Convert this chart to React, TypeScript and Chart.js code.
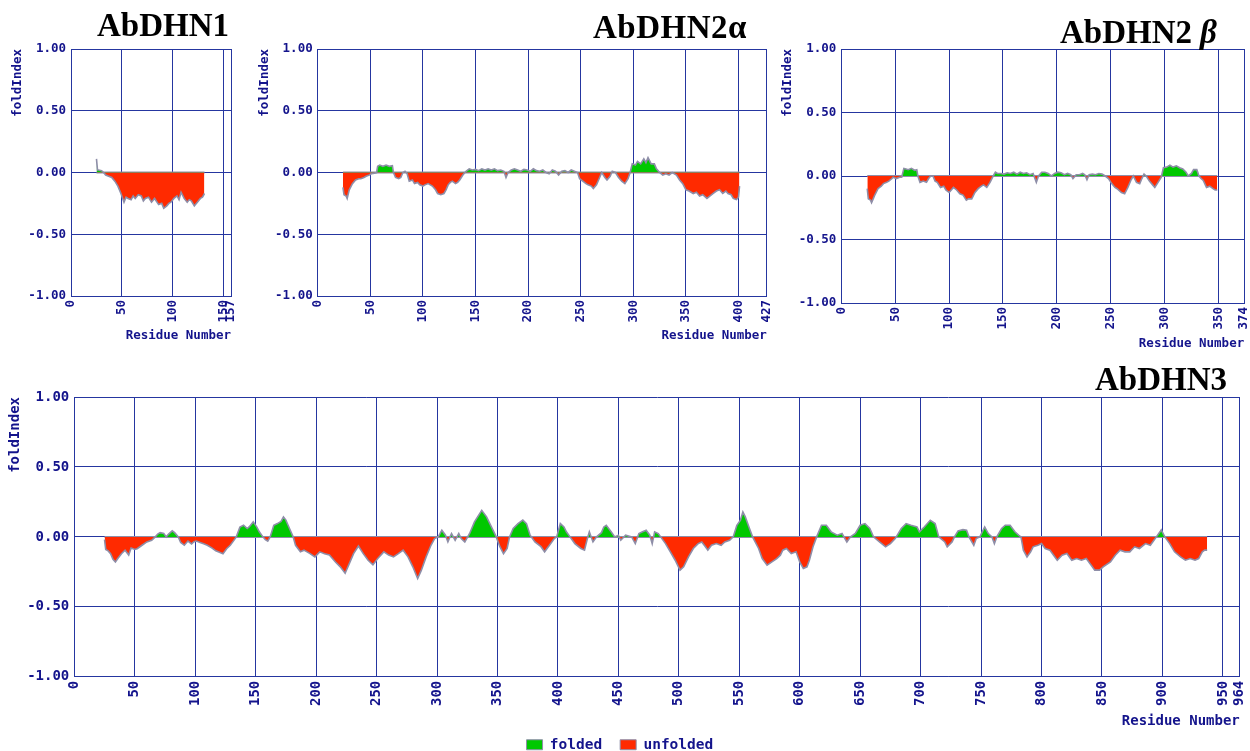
import React, { useEffect, useRef } from 'react';
import { Chart, registerables } from 'chart.js';

Chart.register(...registerables);

// ---------- data ----------
const yTicks = [-1, -0.5, 0, 0.5, 1];

const dhn1XTicks = [0, 50, 100, 150, 157];
const dhn1Residues = [25, 26, 27, 30, 32, 34, 37, 40, 43, 46, 49, 52, 54, 56, 59, 61, 63, 66, 69, 71, 73, 76, 79, 82, 86, 89, 91, 94, 96, 98, 101, 104, 106, 108, 111, 114, 116, 118, 121, 124, 127, 129, 131];
const dhn1Values = [0.11, 0.02, 0.02, 0.015, 0.0, -0.02, -0.03, -0.04, -0.07, -0.11, -0.17, -0.24, -0.2, -0.21, -0.22, -0.19, -0.21, -0.18, -0.19, -0.23, -0.21, -0.2, -0.24, -0.21, -0.26, -0.25, -0.29, -0.27, -0.25, -0.24, -0.21, -0.19, -0.22, -0.16, -0.21, -0.24, -0.22, -0.23, -0.27, -0.24, -0.21, -0.2, -0.17];

const dhn2aXTicks = [0, 50, 100, 150, 200, 250, 300, 350, 400, 427];
const dhn2aResidues = [24, 25, 27, 28, 30, 33, 36, 39, 41, 44, 46, 49, 51, 54, 56, 57, 59, 62, 65, 68, 71, 72, 74, 77, 79, 81, 83, 85, 87, 90, 92, 95, 97, 100, 102, 105, 107, 109, 112, 114, 117, 120, 122, 124, 126, 128, 131, 133, 135, 138, 141, 144, 147, 150, 153, 156, 159, 162, 165, 168, 171, 174, 177, 179, 181, 184, 187, 190, 193, 196, 199, 202, 205, 208, 211, 214, 217, 220, 223, 226, 229, 232, 235, 238, 241, 244, 247, 249, 252, 255, 257, 260, 262, 265, 268, 270, 273, 275, 278, 280, 283, 286, 289, 292, 295, 297, 299, 302, 304, 307, 310, 312, 314, 317, 320, 322, 325, 328, 331, 334, 337, 341, 344, 347, 350, 353, 357, 360, 363, 366, 370, 373, 376, 379, 382, 385, 388, 390, 393, 395, 398, 400, 401];
const dhn2aValues = [-0.12, -0.18, -0.19, -0.21, -0.14, -0.09, -0.06, -0.05, -0.05, -0.04, -0.03, -0.02, -0.01, -0.005, 0.0, 0.05, 0.06, 0.05, 0.06, 0.05, 0.055, 0.0, -0.04, -0.05, -0.04, 0.0, 0.01, -0.01, -0.07, -0.06, -0.09, -0.08, -0.1, -0.11, -0.1, -0.09, -0.1, -0.11, -0.14, -0.17, -0.18, -0.17, -0.14, -0.1, -0.08, -0.07, -0.09, -0.08, -0.06, -0.02, 0.01, 0.03, 0.02, 0.025, 0.015, 0.03, 0.02, 0.03, 0.02, 0.03, 0.015, 0.02, 0.01, -0.04, 0.0, 0.02, 0.03, 0.02, 0.01, 0.025, 0.02, 0.01, 0.03, 0.015, 0.01, 0.02, 0.0, -0.01, 0.02, 0.01, -0.02, 0.01, 0.015, 0.0, 0.02, 0.01, 0.0, -0.05, -0.07, -0.09, -0.1, -0.11, -0.13, -0.1, -0.04, 0.0, -0.04, -0.06, -0.03, 0.01, 0.0, -0.04, -0.07, -0.09, -0.05, 0.0, 0.07, 0.06, 0.09, 0.07, 0.11, 0.08, 0.12, 0.07, 0.07, 0.03, 0.0, -0.02, -0.01, -0.02, 0.0, -0.02, -0.06, -0.09, -0.14, -0.15, -0.17, -0.16, -0.19, -0.18, -0.21, -0.19, -0.17, -0.15, -0.14, -0.17, -0.15, -0.17, -0.18, -0.21, -0.22, -0.2, -0.11];

const dhn2bXTicks = [0, 50, 100, 150, 200, 250, 300, 350, 374];
const dhn2bResidues = [24, 25, 27, 28, 30, 31, 34, 37, 39, 42, 44, 47, 48, 51, 54, 56, 58, 60, 62, 65, 68, 70, 71, 73, 76, 79, 81, 83, 85, 87, 89, 92, 95, 97, 100, 102, 104, 107, 110, 113, 116, 118, 121, 124, 127, 130, 132, 135, 138, 141, 143, 145, 148, 151, 154, 157, 160, 163, 166, 169, 172, 175, 178, 181, 183, 186, 189, 192, 195, 198, 201, 204, 207, 210, 213, 215, 218, 221, 224, 226, 228, 230, 233, 236, 239, 242, 245, 248, 251, 254, 256, 260, 263, 266, 269, 271, 274, 277, 279, 281, 283, 286, 289, 291, 294, 297, 299, 302, 305, 308, 311, 314, 317, 320, 322, 325, 327, 330, 332, 334, 336, 339, 342, 345, 347, 349];
const dhn2bValues = [-0.1, -0.18, -0.19, -0.21, -0.17, -0.15, -0.1, -0.08, -0.06, -0.05, -0.04, -0.02, -0.01, -0.02, -0.01, -0.01, 0.06, 0.055, 0.05, 0.06, 0.045, 0.05, 0.0, -0.05, -0.04, -0.05, -0.02, 0.0, 0.0, -0.04, -0.05, -0.09, -0.08, -0.11, -0.13, -0.11, -0.09, -0.11, -0.14, -0.15, -0.19, -0.18, -0.18, -0.13, -0.1, -0.08, -0.07, -0.09, -0.05, 0.0, 0.03, 0.02, 0.02, 0.015, 0.025, 0.02, 0.03, 0.015, 0.03, 0.02, 0.025, 0.01, 0.02, -0.05, 0.0, 0.03, 0.03, 0.02, 0.0, 0.02, 0.03, 0.025, 0.01, 0.02, 0.01, -0.02, 0.01, 0.01, 0.02, 0.01, -0.03, 0.01, 0.015, 0.01, 0.02, 0.015, 0.0, -0.02, -0.06, -0.09, -0.1, -0.13, -0.14, -0.09, -0.03, 0.0, -0.05, -0.06, -0.02, 0.015, 0.0, -0.04, -0.07, -0.09, -0.05, -0.01, 0.065, 0.07, 0.085, 0.07, 0.08, 0.065, 0.055, 0.03, 0.0, 0.02, 0.05, 0.05, 0.0, -0.02, -0.035, -0.09, -0.08, -0.1, -0.11, -0.11];

const dhn3XTicks = [0, 50, 100, 150, 200, 250, 300, 350, 400, 450, 500, 550, 600, 650, 700, 750, 800, 850, 900, 950, 964];
const dhn3Residues = [25, 26, 28, 30, 32, 34, 36, 39, 42, 45, 47, 50, 52, 56, 60, 64, 67, 69, 71, 74, 76, 78, 81, 83, 86, 88, 91, 94, 97, 99, 101, 104, 107, 110, 114, 117, 120, 123, 126, 129, 132, 134, 137, 140, 143, 145, 148, 151, 153, 156, 158, 160, 162, 165, 168, 171, 173, 175, 178, 181, 183, 187, 190, 195, 199, 203, 207, 211, 216, 220, 224, 227, 231, 235, 239, 243, 247, 251, 256, 260, 264, 268, 272, 276, 280, 284, 287, 291, 295, 298, 301, 304, 307, 309, 312, 315, 318, 320, 323, 327, 331, 337, 341, 345, 349, 352, 355, 358, 360, 363, 367, 371, 374, 377, 381, 386, 389, 393, 397, 399, 402, 405, 407, 410, 414, 419, 422, 424, 426, 429, 432, 436, 438, 440, 444, 447, 450, 452, 456, 461, 464, 467, 470, 473, 476, 478, 480, 483, 485, 489, 493, 497, 501, 504, 508, 512, 516, 519, 522, 524, 527, 531, 535, 538, 542, 545, 548, 551, 553, 555, 558, 561, 566, 569, 573, 577, 581, 584, 586, 589, 593, 597, 600, 603, 606, 608, 611, 614, 618, 622, 626, 631, 635, 639, 642, 646, 650, 654, 658, 661, 666, 671, 675, 679, 684, 688, 692, 697, 699, 703, 708, 712, 715, 720, 722, 726, 728, 731, 735, 738, 740, 744, 746, 749, 753, 756, 759, 761, 763, 767, 770, 774, 778, 781, 783, 785, 788, 791, 793, 797, 800, 803, 807, 813, 817, 821, 825, 829, 833, 837, 842, 844, 848, 851, 857, 861, 865, 869, 873, 877, 881, 886, 890, 893, 895, 898, 899, 902, 906, 910, 915, 919, 923, 927, 930, 933, 935, 937];
const dhn3Values = [-0.02, -0.09, -0.1, -0.12, -0.16, -0.18, -0.155, -0.12, -0.095, -0.13, -0.08, -0.09, -0.085, -0.06, -0.036, -0.024, 0.0, 0.02, 0.03, 0.025, 0.0, 0.02, 0.043, 0.03, 0.0, -0.04, -0.06, -0.03, -0.05, -0.035, -0.03, -0.04, -0.05, -0.06, -0.08, -0.1, -0.11, -0.12, -0.085, -0.06, -0.025, 0.0, 0.07, 0.083, 0.06, 0.075, 0.107, 0.07, 0.036, 0.0, -0.02, -0.03, 0.0, 0.083, 0.095, 0.11, 0.143, 0.12, 0.06, 0.0, -0.06, -0.107, -0.095, -0.12, -0.143, -0.107, -0.12, -0.13, -0.18, -0.214, -0.26, -0.2, -0.12, -0.065, -0.12, -0.167, -0.2, -0.155, -0.107, -0.13, -0.143, -0.12, -0.095, -0.143, -0.214, -0.298, -0.24, -0.143, -0.06, -0.012, 0.0, 0.048, 0.012, -0.036, 0.024, -0.024, 0.024, -0.012, -0.036, 0.024, 0.107, 0.19, 0.143, 0.071, 0.0, -0.07, -0.12, -0.083, 0.0, 0.06, 0.095, 0.12, 0.095, 0.012, -0.036, -0.07, -0.107, -0.06, -0.012, 0.0, 0.095, 0.071, 0.036, 0.0, -0.048, -0.083, -0.095, -0.024, 0.036, -0.036, 0.0, 0.03, 0.071, 0.083, 0.036, 0.0, 0.012, -0.024, 0.012, 0.0, -0.048, 0.024, 0.036, 0.048, 0.012, -0.048, 0.036, 0.024, 0.0, -0.048, -0.107, -0.167, -0.238, -0.214, -0.143, -0.083, -0.048, -0.036, -0.071, -0.095, -0.06, -0.048, -0.06, -0.036, -0.024, 0.0, 0.083, 0.12, 0.178, 0.143, 0.071, 0.0, -0.083, -0.155, -0.202, -0.179, -0.155, -0.131, -0.095, -0.083, -0.119, -0.107, -0.179, -0.226, -0.214, -0.167, -0.071, 0.0, 0.083, 0.083, 0.036, 0.012, 0.024, -0.036, 0.0, 0.024, 0.083, 0.095, 0.06, 0.0, -0.036, -0.071, -0.048, -0.012, 0.06, 0.095, 0.083, 0.071, 0.036, 0.071, 0.119, 0.095, 0.0, -0.036, -0.071, -0.036, 0.0, 0.043, 0.052, 0.048, 0.0, -0.06, -0.012, 0.0, 0.071, 0.024, 0.0, -0.048, 0.0, 0.06, 0.083, 0.083, 0.036, 0.012, 0.0, -0.095, -0.143, -0.107, -0.071, -0.06, -0.048, -0.083, -0.095, -0.167, -0.131, -0.119, -0.167, -0.155, -0.167, -0.155, -0.214, -0.238, -0.238, -0.214, -0.179, -0.131, -0.095, -0.107, -0.107, -0.071, -0.083, -0.048, -0.06, -0.024, 0.0, 0.036, 0.05, 0.0, -0.048, -0.107, -0.143, -0.167, -0.155, -0.167, -0.155, -0.107, -0.095, -0.095];

const legendLabels = ['folded', 'unfolded'];

// ---------- styles ----------
const FOLDED = '#00c800';
const UNFOLDED = '#ff2a00';
const OUTLINE = '#8e8ea8';
const GRID = '#2536a0';
const TEXT = '#14148c';
const MONO = "'DejaVu Sans Mono', monospace";

type Spec = {
  residues: number[];
  values: number[];
  xTicks: number[];
  left: number;
  top: number;
  width: number;
  height: number;
  pad: { left: number; right: number; top: number; bottom: number };
  yAxisWidth: number;
  xAxisHeight: number;
  fontSize: number;
  yTitlePad: number;
  xTitlePad: number;
  legend: boolean;
};

const panels: Spec[] = [
  { residues: dhn1Residues, values: dhn1Values, xTicks: dhn1XTicks, left: 0, top: 39, width: 240, height: 307,
    pad: { left: 0, right: 9, top: 10, bottom: 0 }, yAxisWidth: 71, xAxisHeight: 50, fontSize: 12.5, yTitlePad: 10.5, xTitlePad: 2.5, legend: false },
  { residues: dhn2aResidues, values: dhn2aValues, xTicks: dhn2aXTicks, left: 245, top: 39, width: 531, height: 307,
    pad: { left: 0, right: 9.1, top: 10, bottom: 0 }, yAxisWidth: 72.7, xAxisHeight: 50, fontSize: 12.5, yTitlePad: 12.5, xTitlePad: 2.5, legend: false },
  { residues: dhn2bResidues, values: dhn2bValues, xTicks: dhn2bXTicks, left: 770, top: 39, width: 490, height: 314,
    pad: { left: 0, right: 15.8, top: 10, bottom: 0 }, yAxisWidth: 71.4, xAxisHeight: 50, fontSize: 12.5, yTitlePad: 10.5, xTitlePad: 1.5, legend: false },
  { residues: dhn3Residues, values: dhn3Values, xTicks: dhn3XTicks, left: 0, top: 380, width: 1250, height: 382.25,
    pad: { left: 0, right: 10.2, top: 17, bottom: 0 }, yAxisWidth: 74.3, xAxisHeight: 42.75, fontSize: 14, yTitlePad: 6.6, xTitlePad: -10.35, legend: true },
];

function FoldPanel({ spec }: { spec: Spec }) {
  const ref = useRef<HTMLCanvasElement>(null);
  useEffect(() => {
    if (!ref.current) return;
    const font = { family: MONO, weight: 'bold' as const, size: spec.fontSize, lineHeight: 1.2 };
    const points = spec.residues.map((r, i) => ({ x: r, y: spec.values[i] }));
    const first = spec.residues[0];
    const last = spec.residues[spec.residues.length - 1];
    const chart = new Chart(ref.current, {
      type: 'line',
      data: {
        datasets: [
          {
            label: 'foldIndex',
            data: points,
            borderColor: OUTLINE,
            borderWidth: 1.6,
            pointRadius: 0,
            tension: 0,
            fill: { target: { value: 0 }, above: FOLDED, below: UNFOLDED } as any,
          },
          {
            label: 'baseline',
            data: [{ x: first, y: 0 }, { x: last, y: 0 }],
            borderColor: OUTLINE,
            borderWidth: 2,
            pointRadius: 0,
            fill: false,
          },
        ],
      },
      options: {
        animation: false,
        responsive: false,
        maintainAspectRatio: false,
        events: [],
        layout: { padding: spec.pad },
        plugins: {
          tooltip: { enabled: false },
          legend: {
            display: spec.legend,
            position: 'bottom',
            labels: {
              boxWidth: 16,
              boxHeight: 10,
              padding: 18,
              color: TEXT,
              font: { family: MONO, weight: 'bold', size: 14.5 },
              generateLabels: () =>
                legendLabels.map((t, i) => ({
                  text: t,
                  fillStyle: i === 0 ? FOLDED : UNFOLDED,
                  strokeStyle: OUTLINE,
                  lineWidth: 1,
                  hidden: false,
                  fontColor: TEXT,
                  datasetIndex: 0,
                })),
            },
          },
        },
        scales: {
          x: {
            type: 'linear',
            min: 0,
            max: spec.xTicks[spec.xTicks.length - 1],
            afterBuildTicks: (s: any) => {
              s.ticks = spec.xTicks.map((v) => ({ value: v }));
            },
            afterFit: (s: any) => {
              s.height = spec.xAxisHeight;
              s.paddingLeft = 0;
              s.paddingRight = 0;
            },
            ticks: {
              autoSkip: false,
              minRotation: 90,
              maxRotation: 90,
              padding: 4,
              color: TEXT,
              font,
              callback: (v: any) => String(v),
            },
            grid: { color: GRID, lineWidth: 1, drawTicks: false },
            border: { color: GRID, width: 1 },
            title: {
              display: true,
              text: 'Residue Number',
              align: 'end',
              color: TEXT,
              font,
              padding: { top: 0, bottom: spec.xTitlePad },
            },
          },
          y: {
            type: 'linear',
            min: -1,
            max: 1,
            afterBuildTicks: (s: any) => {
              s.ticks = yTicks.map((v) => ({ value: v }));
            },
            afterFit: (s: any) => {
              s.width = spec.yAxisWidth;
              s.paddingTop = 0;
              s.paddingBottom = 0;
            },
            ticks: {
              padding: 5,
              color: TEXT,
              font,
              callback: (v: any) => Number(v).toFixed(2),
            },
            grid: { color: GRID, lineWidth: 1, drawTicks: false },
            border: { color: GRID, width: 1 },
            title: {
              display: true,
              text: 'foldIndex',
              align: 'end',
              color: TEXT,
              font,
              padding: { top: spec.yTitlePad, bottom: 0 },
            },
          },
        },
      },
    });
    return () => chart.destroy();
  }, [spec]);
  return (
    <canvas
      ref={ref}
      width={spec.width}
      height={spec.height}
      style={{ position: 'absolute', left: spec.left, top: spec.top, width: spec.width, height: spec.height, display: 'block' }}
    />
  );
}

const titleStyle: React.CSSProperties = {
  position: 'absolute',
  fontFamily: "'Liberation Serif', 'Times New Roman', serif",
  fontWeight: 'bold',
  fontSize: 33,
  lineHeight: '33px',
  color: '#000',
  whiteSpace: 'nowrap',
};

export default function App() {
  return (
    <div style={{ position: 'absolute', left: 0, top: 0, width: 1250, height: 751, overflow: 'hidden', background: '#fff' }}>
      {panels.map((p, i) => (
        <FoldPanel key={i} spec={p} />
      ))}
      <div style={{ ...titleStyle, left: 97, top: 9 }}>AbDHN1</div>
      <div style={{ ...titleStyle, left: 593, top: 11, letterSpacing: 0.5 }}>AbDHN2α</div>
      <div style={{ ...titleStyle, left: 1060, top: 16 }}>
        AbDHN2<span style={{ fontStyle: 'italic', marginLeft: 8 }}>β</span>
      </div>
      <div style={{ ...titleStyle, left: 1095, top: 363 }}>AbDHN3</div>
    </div>
  );
}
